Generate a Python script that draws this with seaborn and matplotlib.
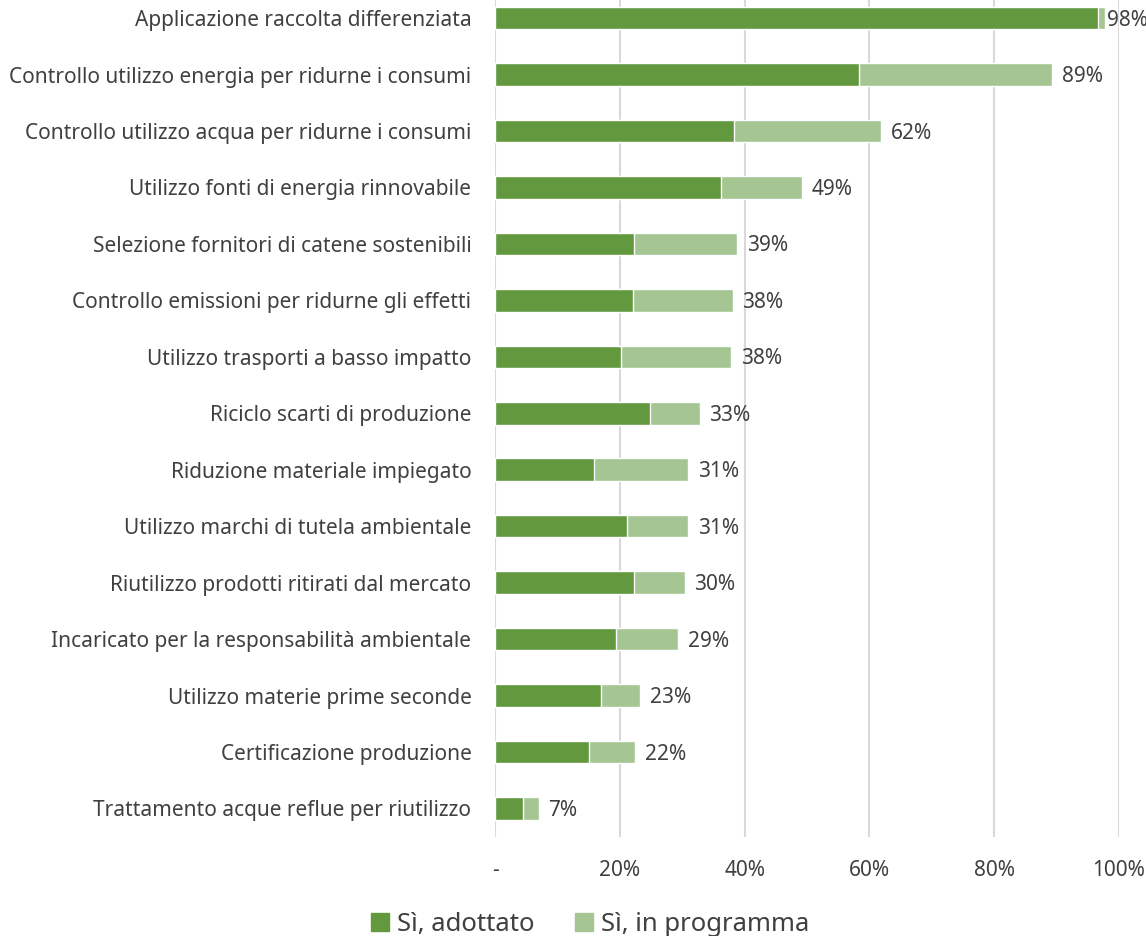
import numpy as np
import pandas as pd
import matplotlib
matplotlib.use("Agg")
import matplotlib.pyplot as plt
import seaborn as sns
from matplotlib.patches import Patch
from matplotlib.ticker import FuncFormatter

# ==========================================
# Data
# ==========================================

categories = [
    "Applicazione raccolta differenziata",
    "Controllo utilizzo energia per ridurne i consumi",
    "Controllo utilizzo acqua per ridurne i consumi",
    "Utilizzo fonti di energia rinnovabile",
    "Selezione fornitori di catene sostenibili",
    "Controllo emissioni per ridurne gli effetti",
    "Utilizzo trasporti a basso impatto",
    "Riciclo scarti di produzione",
    "Riduzione materiale impiegato",
    "Utilizzo marchi di tutela ambientale",
    "Riutilizzo prodotti ritirati dal mercato",
    "Incaricato per la responsabilità ambientale",
    "Utilizzo materie prime seconde",
    "Certificazione produzione",
    "Trattamento acque reflue per riutilizzo",
]

adottato = [96.6, 58.3, 38.3, 36.2, 22.2, 22.1, 20.2, 24.9, 15.8, 21.2, 22.3, 19.4, 16.9, 15.1, 4.5]
in_programma = [1.2, 31.0, 23.5, 13.0, 16.6, 16.0, 17.6, 7.9, 15.1, 9.7, 8.1, 9.9, 6.3, 7.3, 2.5]

legend_labels = ["Sì, adottato", "Sì, in programma"]
x_ticks = [0, 20, 40, 60, 80, 100]

df = pd.DataFrame({
    "Azione": categories,
    "Adottato": adottato,
    "Programma": in_programma,
})
df["Totale"] = df["Adottato"] + df["Programma"]

# ==========================================
# Style
# ==========================================

sns.set_theme(style="white")
plt.rcParams["font.family"] = ["Noto Sans", "DejaVu Sans"]

dark_green = "#62993E"
light_green = "#A5C593"
text_color = "#404040"
grid_color = "#D9D9D9"

# ==========================================
# Plot
# ==========================================

fig = plt.figure(figsize=(11.46, 9.36), dpi=100)
ax = fig.add_axes([0.432, 0.1061, 0.5445, 0.8939])

for x in x_ticks:
    ax.axvline(x, color=grid_color, linewidth=1.5, zorder=0)

sns.barplot(data=df, y="Azione", x="Totale", orient="h", color=light_green,
            width=0.4, saturation=1, ax=ax, zorder=2)
sns.barplot(data=df, y="Azione", x="Adottato", orient="h", color=dark_green,
            width=0.4, saturation=1, ax=ax, zorder=3)

for i, total in enumerate(df["Totale"]):
    offset = 1 if total > 95 else 7
    ax.annotate(f"{round(total):.0f}%", xy=(total, i), xytext=(offset, -1.5),
                textcoords="offset points", va="center", ha="left",
                fontsize=15, color=text_color, annotation_clip=False)

ax.set_xlim(0, 100)
ax.set_ylim(14.5, -0.32)
ax.set_xticks(x_ticks)
ax.xaxis.set_major_formatter(FuncFormatter(lambda v, p: "-" if v == 0 else f"{v:.0f}%"))
ax.set_xlabel("")
ax.set_ylabel("")
ax.tick_params(axis="x", length=0, pad=17, labelsize=15, labelcolor=text_color)
ax.tick_params(axis="y", length=0, pad=17, labelsize=15, labelcolor=text_color)
sns.despine(ax=ax, left=True, bottom=True)

handles = [Patch(color=dark_green), Patch(color=light_green)]
fig.legend(handles, legend_labels, loc="center", bbox_to_anchor=(0.515, 0.012),
           ncol=2, frameon=False, fontsize=18.5, handlelength=0.7, handleheight=0.7,
           handletextpad=0.3, columnspacing=1.6, labelcolor=text_color)

plt.savefig("out.png", dpi=100)
